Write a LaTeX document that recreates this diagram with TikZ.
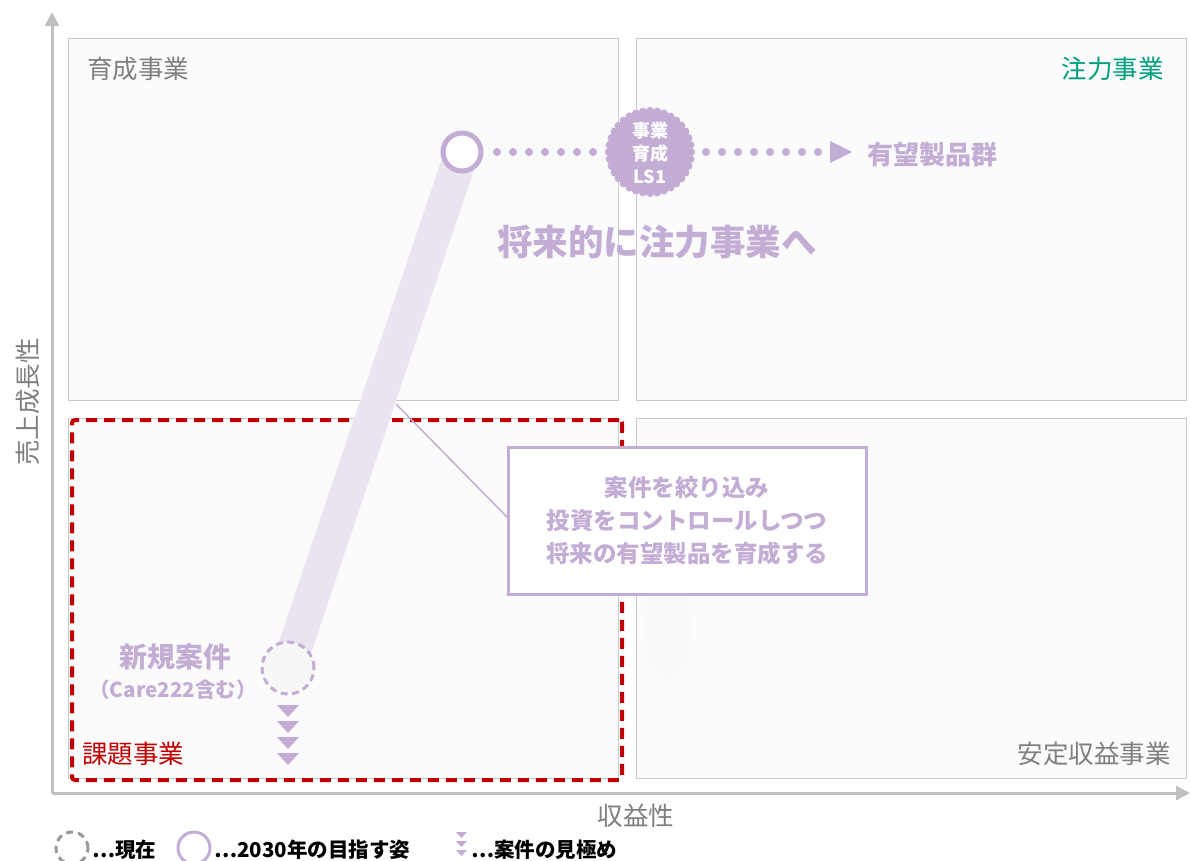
\documentclass[tikz,border=0pt]{standalone}
\usepackage{fontspec}
\setmainfont{Noto Sans CJK JP}
\newfontfamily\jp{Noto Sans CJK JP}
\usetikzlibrary{arrows.meta,shapes.geometric,calc}
\definecolor{pur}{HTML}{C3ADD5}
\definecolor{lbar}{HTML}{EAE4F0}
\definecolor{gtx}{HTML}{7F7F7F}
\definecolor{axc}{HTML}{C0C0C0}
\definecolor{qbd}{HTML}{C8C8C8}
\definecolor{qfl}{HTML}{FBFBFB}
\definecolor{teal}{HTML}{00A07E}
\definecolor{red}{HTML}{C00000}
\tikzset{
  quad/.style={draw=qbd, fill=qfl, line width=1pt},
  qlabel/.style={font=\jp\fontsize{25.5}{27}\selectfont, text=gtx, inner sep=0},
  axis/.style={draw=axc, line width=3pt, -{Triangle[width=14pt,length=14pt]}},
  ptxt/.style={text=pur, font=\jp\bfseries, inner sep=0, align=center},
  dots/.style={draw=pur, line width=8pt, line cap=round, dash pattern=on 0pt off 16pt},
  leg/.style={font=\jp\bfseries\fontsize{20.5}{22}\selectfont, inner sep=0, anchor=west}
}
\begin{document}
\begin{tikzpicture}[x=1pt,y=-1pt]
\useasboundingbox (0,0) rectangle (1190,860);
\fill[white] (0,0) rectangle (1190,860);
% quadrants
\node[quad, minimum width=550, minimum height=362, anchor=north west, inner sep=0] (tl) at (68,38) {};
\node[quad, minimum width=550, minimum height=362, anchor=north west, inner sep=0] (tr) at (636,38) {};
\node[quad, minimum width=550, minimum height=360, anchor=north west, inner sep=0] (bl) at (68,418) {};
\node[quad, minimum width=550, minimum height=360, anchor=north west, inner sep=0] (br) at (636,418) {};
% axes
\coordinate (o) at (52,793);
\coordinate (ytop) at (52,12);
\coordinate (xend) at (1190,793);
\draw[axis] (o) -- (ytop);
\draw[axis] (o) -- (xend);
\node[qlabel, rotate=90] (ylab) at (28,402) {売上成長性};
\node[qlabel] (xlab) at (636,816) {収益性};
% quadrant labels
\node[qlabel, anchor=west] (l1) at (87,69) {育成事業};
\node[qlabel, anchor=east, text=teal] (l2) at (1164,69) {注力事業};
\node[qlabel, anchor=east] (l3) at (1171,754) {安定収益事業};
\node[qlabel, anchor=west, text=red] (l4) at (82,754) {課題事業};
% red dashed box
\node[draw=red, line width=4pt, dash pattern=on 11pt off 7pt, rounded corners=3pt, minimum width=550, minimum height=360, anchor=north west, inner sep=0] (redbox) at (70,418) {};
% faint ellipse
\node[fill=black!2.5, ellipse, minimum width=46, minimum height=100, draw=none] (fe) at (668,628) {};
% bar
\coordinate (c0) at (288,668);
\coordinate (c1) at (462,152);
\draw[lbar, line width=34pt] (c0) -- (c1);
% connector line
\coordinate (cl) at (396,404);
% callout box
\node[draw=pur, line width=2.5pt, fill=white, minimum width=358, minimum height=147, anchor=north west, inner sep=0] (box) at (507,446) {};
\draw[pur, line width=1.5pt] (cl) -- (box.west|-0,517);
\node[ptxt, font=\jp\bfseries\fontsize{23.5}{33}\selectfont] (boxtxt) at (687,521) {案件を絞り込み\\投資をコントロールしつつ\\将来の有望製品を育成する};
% circles
\node[circle, draw=pur, line width=3pt, dash pattern=on 7pt off 4.5pt, fill=black!3, minimum size=52, inner sep=0] (now) at (c0) {};
\node[circle, draw=pur, line width=5pt, fill=white, minimum size=38, inner sep=0] (goal) at (c1) {};
% starburst
\coordinate (sb) at (650,152);
\fill[pur] (sb) circle (41);
\foreach \a in {0,10,...,350} { \fill[pur] ($(sb)+(\a:41)$) circle (4); }
\node[ptxt, text=white, font=\jp\bfseries\fontsize{18}{23}\selectfont] (sbt) at (650,153) {事業\\育成\\LS1};
% dotted lines
\coordinate (arr) at (852,152);
\draw[dots] (497,152) -- (597,152);
\draw[dots] (706,152) -- (818,152);
\fill[pur] (830,141) -- (852,152) -- (830,163) -- cycle;
\node[ptxt, anchor=west, font=\jp\bfseries\fontsize{26}{28}\selectfont] (prod) at (867,155) {有望製品群};
\node[ptxt, font=\jp\bfseries\fontsize{35.5}{38}\selectfont] (fut) at (657,242) {将来的に注力事業へ};
% new items
\node[ptxt, font=\jp\bfseries\fontsize{28}{30}\selectfont] (new) at (175,657) {新規案件};
\node[ptxt, font=\jp\bfseries\fontsize{20.5}{22}\selectfont] (care) at (173,690) {（Care222含む）};
% triangles
\foreach \y in {705,721,737,753} { \fill[pur] (277,\y) -- (299,\y) -- (288,\y+12) -- cycle; }
% legend
\node[circle, draw=gtx!80, line width=3pt, dash pattern=on 7pt off 5pt, minimum size=32, inner sep=0] (lg1) at (72,848) {};
\node[leg] (lt1) at (92,850) {…現在};
\node[circle, draw=pur, line width=3pt, minimum size=32, inner sep=0] (lg2) at (194,848) {};
\node[leg] (lt2) at (214,850) {…2030年の目指す姿};
\foreach \y in {832,841,850} { \fill[pur] (456,\y) -- (467,\y) -- (461.5,\y+6) -- cycle; }
\node[leg] (lt3) at (471,850) {…案件の見極め};
\end{tikzpicture}
\end{document}
